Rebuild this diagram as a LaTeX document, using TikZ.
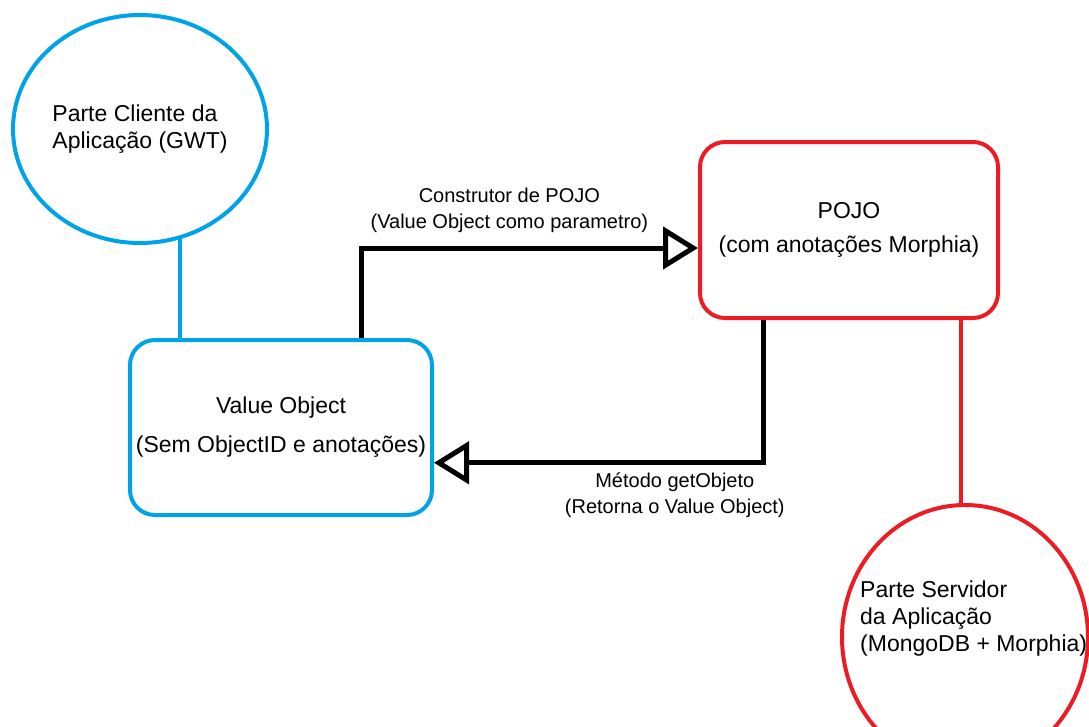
\documentclass[tikz,border=0pt]{standalone}
\usepackage{fontspec}
\setmainfont{Liberation Sans}
\usetikzlibrary{positioning}
\usetikzlibrary{calc}
\usetikzlibrary{arrows.meta}
\usetikzlibrary{shapes.geometric}
\definecolor{pblue}{RGB}{0,162,232}
\definecolor{pred}{RGB}{237,28,36}

\begin{document}
\begin{tikzpicture}[x=1pt, y=-1pt,
    every node/.style={font=\fontsize{23}{27}\selectfont},
    bubble/.style={ellipse, draw, line width=4pt, inner sep=0pt},
    objbox/.style={rectangle, draw, line width=4pt, rounded corners=25pt, align=center, inner sep=0pt},
    flow/.style={line width=5pt, -{Triangle[open, length=35pt, width=42pt]}},
    flowlabel/.style={font=\fontsize{20}{26}\selectfont, align=center, inner sep=2pt}]
    \useasboundingbox (0,0) rectangle (1089,726);
    \clip (0,0) rectangle (1089,726);

    \node[bubble, pblue, text=black, align=left, minimum width=254pt, minimum height=228pt] (cli) at (140,129)
        {Parte Cliente da\\Aplica\c{c}\~ao (GWT)};
    \node[objbox, pblue, text=black, minimum width=302pt, minimum height=175pt] (vo) at (281,427.5)
        {Value Object\\[12pt](Sem ObjectID e anota\c{c}\~oes)};
    \node[objbox, pred, text=black, minimum width=298pt, minimum height=176pt] (pojo) at (849,230)
        {POJO\\[7pt](com anota\c{c}\~oes Morphia)};
    \node[bubble, pred, minimum width=246pt, minimum height=264pt] (srv) at (965,637) {};
    \node[anchor=west, align=left, inner sep=0pt] (srvtext) at (860,619)
        {Parte Servidor\\da Aplica\c{c}\~ao\\(MongoDB + Morphia)};

    % ligacoes
    \draw[pblue, line width=4pt] (cli.-70) -- (cli.-70 |- vo.north);
    \coordinate (pojored) at ($(pojo.south west)!0.872!(pojo.south east)$);
    \draw[pred, line width=4pt] (pojored) -- (pojored |- srv.north);

    \draw[flow] ($(vo.north west)!0.762!(vo.north east)$) |- ($(pojo.north west)!0.6!(pojo.south west)$)
        node[flowlabel, pos=0.72, above=11pt] (ctor) {Construtor de POJO\\(Value Object como parametro)};
    \draw[flow] ($(pojo.south west)!0.218!(pojo.south east)$) |- ($(vo.north east)!0.697!(vo.south east)$)
        node[flowlabel, pos=0.635, below=5pt] (getobj) {M\'etodo getObjeto\\(Retorna o Value Object)};
\end{tikzpicture}
\end{document}
